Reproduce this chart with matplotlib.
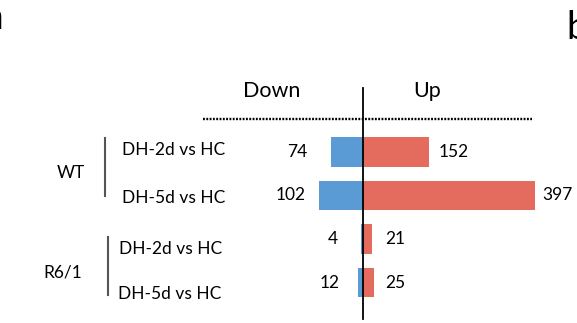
import numpy as np
import matplotlib.pyplot as plt

plt.rcParams['font.family'] = ['Lato', 'DejaVu Sans']

# data
groups = ['WT', 'R6/1']
comparisons = ['DH-2d vs HC', 'DH-5d vs HC', 'DH-2d vs HC', 'DH-5d vs HC']
down = [74, 102, 4, 12]
up = [152, 397, 21, 25]

W, H = 577, 323
fig = plt.figure(figsize=(W / 100, H / 100), dpi=100)
ax = fig.add_axes([0, 0, 1, 1])
ax.axis('off')

# pixel layout of the panel
x0, scale = 363, 0.433      # zero line and px per gene
row0, step = 152, 43.5      # first row centre and row spacing
ax.set_xlim(-x0 / scale, (W - x0) / scale)
ax.set_ylim((H - row0) / step, -row0 / step)


def px(x, y):
    return x / W, 1 - y / H


rows = np.arange(len(down))
ax.barh(rows, -np.array(down), height=0.67, color='#5B9BD5')
ax.barh(rows, up, height=0.67, color='#E36C5F')

# value labels
down_pad = [24, 13, 23, 18]
up_pad = [10, 7, 13, 11]
for i in rows:
    ax.annotate(str(down[i]), (-down[i], i), xytext=(-down_pad[i], 0),
                textcoords='offset pixels', ha='right', va='center', fontsize=12.5)
    ax.annotate(str(up[i]), (up[i], i), xytext=(up_pad[i], 0),
                textcoords='offset pixels', ha='left', va='center', fontsize=12.5)

# centre line and dotted header line
ax.plot([0, 0], [(88 - row0) / step, (319 - row0) / step], color='black', lw=1.3)
ax.plot([(203 - x0) / scale, (532 - x0) / scale], [(119 - row0) / step] * 2,
        color='black', lw=1.7, linestyle=(0, (0.8, 0.6)))

fig.text(*px(272, 91), 'Down', ha='center', va='center', fontsize=15.5)
fig.text(*px(427, 91), 'Up', ha='center', va='center', fontsize=15.5)

# row labels
label_y = [150, 198, 249, 294]
label_x = [122, 122, 119, 118]
for lab, xx, yy in zip(comparisons, label_x, label_y):
    fig.text(*px(xx, yy), lab, ha='left', va='center', fontsize=12.5)

# group labels with brackets
fig.text(*px(71, 173), groups[0], ha='center', va='center', fontsize=12.5)
fig.text(*px(63, 273), groups[1], ha='center', va='center', fontsize=12.5)
for bx, y1, y2 in [(105, 138, 196), (108, 237, 295)]:
    fig.add_artist(plt.Line2D([bx / W] * 2, [1 - y1 / H, 1 - y2 / H],
                              color='#555555', lw=1.5))

# panel letters, cut by the crop as in the source figure
fig.text(*px(3.5, 29), 'a', ha='right', va='baseline', fontsize=27)
fig.text(*px(566, 39), 'b', ha='left', va='baseline', fontsize=27)

fig.savefig('out.png', dpi=100)
